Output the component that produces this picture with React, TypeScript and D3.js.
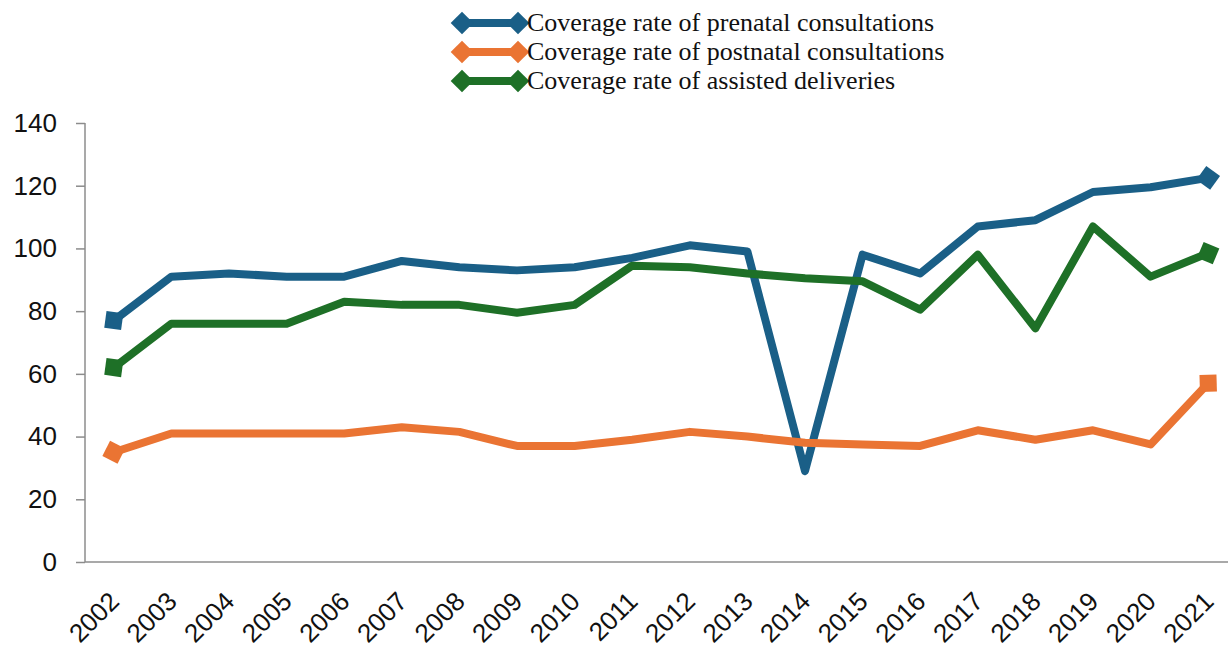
import React, { useEffect } from 'react';
import * as d3 from 'd3';

const years = ['2002', '2003', '2004', '2005', '2006', '2007', '2008', '2009', '2010', '2011',
  '2012', '2013', '2014', '2015', '2016', '2017', '2018', '2019', '2020', '2021'];

const prenatal = [77, 91, 92, 91, 91, 96, 94, 93, 94, 97, 101, 99, 29, 98, 92, 107, 109, 118, 119.5, 122.5];
const postnatal = [35, 41, 41, 41, 41, 43, 41.5, 37, 37, 39, 41.5, 40, 38, 37.5, 37, 42, 39, 42, 37.5, 57];
const assisted = [62, 76, 76, 76, 83, 82, 82, 79.5, 82, 94.5, 94, 92, 90.5, 89.5, 80.5, 98, 74.5, 107, 91, 98.5];

const seriesNames = [
  'Coverage rate of prenatal consultations',
  'Coverage rate of postnatal consultations',
  'Coverage rate of assisted deliveries',
];
const seriesColors = ['#1a5f87', '#ea7433', '#1e7027'];
const yTicks = [0, 20, 40, 60, 80, 100, 120, 140];

const App: React.FC = () => {
  useEffect(() => {
    document.body.style.margin = '0';
    d3.select('#chart').html('');

    const W = 1228;
    const H = 655;
    const left = 85;
    const top = 123;
    const bottom = 562;
    const sans = 'Liberation Sans, Arial, sans-serif';

    const svg = d3.select('#chart').append('svg').attr('width', W).attr('height', H)
      .style('display', 'block').style('background', '#fff');

    const x = d3.scalePoint<string>().domain(years).range([left, left + 1152]).padding(0.5);
    const y = d3.scaleLinear().domain([0, 140]).range([bottom, top]);

    // assi
    const axisColor = '#8c8c8c';
    const yAxis = svg.append('g').attr('transform', `translate(${left},0)`)
      .call(d3.axisLeft(y).tickValues(yTicks).tickSize(9).tickPadding(19));
    yAxis.select('.domain').remove();
    yAxis.selectAll('line').attr('stroke', axisColor).attr('stroke-width', 1.5);
    yAxis.selectAll('text').attr('font-family', sans)
      .attr('font-size', 26).attr('fill', '#111');
    svg.append('line').attr('x1', left).attr('x2', left).attr('y1', top).attr('y2', bottom)
      .attr('stroke', axisColor).attr('stroke-width', 1.5);
    svg.append('line').attr('x1', left).attr('x2', W).attr('y1', bottom).attr('y2', bottom)
      .attr('stroke', axisColor).attr('stroke-width', 1.5);

    svg.append('g').selectAll('text').data(years).enter().append('text')
      .attr('transform', d => `translate(${x(d)! + 7},${bottom + 41}) rotate(-45)`)
      .attr('text-anchor', 'end')
      .attr('font-family', sans)
      .attr('font-size', 26).attr('fill', '#111')
      .text(d => d);

    const allSeries = [prenatal, postnatal, assisted];
    const line = d3.line<number>().x((_, i) => x(years[i])!).y(d => y(d));
    const side = 17;

    allSeries.forEach((vals, si) => {
      const color = seriesColors[si];
      svg.append('path').datum(vals).attr('d', line).attr('fill', 'none')
        .attr('stroke', color).attr('stroke-width', 8).attr('stroke-linejoin', 'round');

      // marker al primo e ultimo punto, orientato secondo la linea
      const ends = [[0, 1], [vals.length - 1, vals.length - 2]];
      ends.forEach(([i, j]) => {
        const px = x(years[i])!;
        const py = y(vals[i]);
        const ang = Math.atan2(y(vals[j]) - py, x(years[j])! - px) * 180 / Math.PI;
        svg.append('rect').attr('x', -side / 2).attr('y', -side / 2)
          .attr('width', side).attr('height', side).attr('fill', color)
          .attr('transform', `translate(${px},${py}) rotate(${ang + 45})`);
      });
    });

    // legenda
    const legend = svg.append('g');
    seriesNames.forEach((name, i) => {
      const ly = 23 + i * 29;
      const g = legend.append('g').attr('transform', `translate(0,${ly})`);
      g.append('line').attr('x1', 462).attr('x2', 518).attr('y1', 0).attr('y2', 0)
        .attr('stroke', seriesColors[i]).attr('stroke-width', 8);
      [462, 518].forEach(cx => {
        g.append('rect').attr('x', -8).attr('y', -8).attr('width', 16).attr('height', 16)
          .attr('fill', seriesColors[i]).attr('transform', `translate(${cx},0) rotate(45)`);
      });
      g.append('text').attr('x', 527).attr('y', 8)
        .attr('font-family', 'Liberation Serif, Times New Roman, serif')
        .attr('font-size', 26).attr('fill', '#111').text(name);
    });
  }, []);

  return <div id="chart"></div>;
};

export default App;
